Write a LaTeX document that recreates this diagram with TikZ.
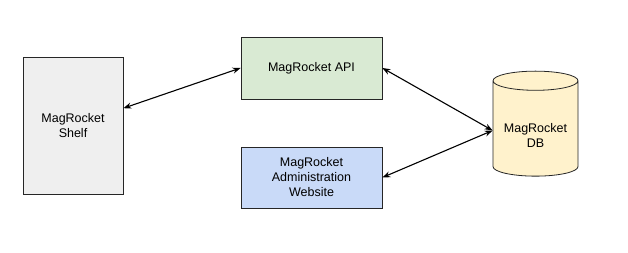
\documentclass[tikz,border=0pt]{standalone}
\usepackage{fontspec}
\setmainfont{Liberation Sans}
\usetikzlibrary{positioning,shapes.geometric,arrows.meta}

\definecolor{shelfgray}{HTML}{EFEFEF}
\definecolor{apigreen}{HTML}{D9EAD3}
\definecolor{adminblue}{HTML}{C9DAF8}
\definecolor{dbyellow}{HTML}{FFF2CC}

\begin{document}
\begin{tikzpicture}[on grid,
  box/.style={draw=black!85,line width=0.8pt,align=center,
    font=\fontsize{12.5}{15}\selectfont},
  link/.style={{Stealth[length=8pt,width=6pt]}-{Stealth[length=8pt,width=6pt]},line width=1.1pt}]
\useasboundingbox (0pt,0pt) rectangle (628pt,253pt);
\node[box,fill=shelfgray,minimum width=100pt,minimum height=137pt] (shelf) at (73pt,127.5pt) {MagRocket\\Shelf};
\node[box,fill=apigreen,minimum width=141pt,minimum height=62pt] (api) [above right=57.5pt and 238.5pt of shelf] {MagRocket API};
\node[box,fill=adminblue,minimum width=141pt,minimum height=61pt] (admin) [below=109.5pt of api] {MagRocket\\Administration\\Website};
% text sits a little below the middle of the drum
\node[box,fill=dbyellow,cylinder,shape border rotate=90,aspect=0.25,
  minimum width=85pt,minimum height=105pt] (db) [below right=62.5pt and 224pt of api]
  {\raisebox{-5pt}[\height][\depth]{\parbox{70pt}{\centering MagRocket\\DB}}};
\path[link]
	(shelf) edge (api.west)
	(api.east) edge (db.west)
	(admin.east) edge (db.west);
\end{tikzpicture}
\end{document}
